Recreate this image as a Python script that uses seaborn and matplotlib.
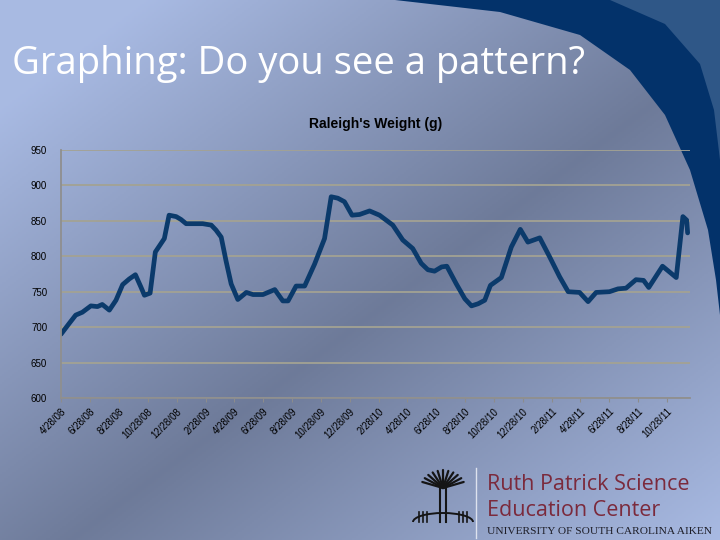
import numpy as np
import pandas as pd
import matplotlib
matplotlib.use("Agg")
import matplotlib.pyplot as plt
from matplotlib.patches import Polygon, Arc
import seaborn as sns

# weigh-in dates and weights
dates = [
    "2008-04-28", "2008-05-15", "2008-05-29", "2008-06-12", "2008-06-30",
    "2008-07-14", "2008-07-24", "2008-08-08", "2008-08-22", "2008-09-05",
    "2008-09-19", "2008-10-02", "2008-10-14", "2008-10-21", "2008-11-02",
    "2008-11-13", "2008-11-25", "2008-12-02", "2008-12-12", "2008-12-27",
    "2009-01-06", "2009-01-17", "2009-02-21", "2009-03-11", "2009-03-21",
    "2009-04-01", "2009-04-11", "2009-04-22", "2009-05-06", "2009-05-24",
    "2009-06-07", "2009-06-28", "2009-07-23", "2009-08-09", "2009-08-20",
    "2009-09-06", "2009-09-24", "2009-10-15", "2009-11-05", "2009-11-19",
    "2009-12-03", "2009-12-17", "2010-01-02", "2010-01-18", "2010-02-08",
    "2010-03-01", "2010-03-15", "2010-03-29", "2010-04-19", "2010-05-10",
    "2010-05-28", "2010-06-11", "2010-06-25", "2010-07-10", "2010-07-21",
    "2010-08-10", "2010-08-28", "2010-09-11", "2010-09-25", "2010-10-09",
    "2010-10-21", "2010-11-13", "2010-12-04", "2010-12-23", "2011-01-08",
    "2011-02-02", "2011-02-23", "2011-03-16", "2011-04-03", "2011-04-27",
    "2011-05-15", "2011-06-01", "2011-06-29", "2011-07-17", "2011-08-03",
    "2011-08-24", "2011-09-09", "2011-09-20", "2011-10-19", "2011-11-17",
    "2011-12-01", "2011-12-09", "2011-12-11",
]
weights = [
    690, 705, 717, 721, 730, 729, 732, 724, 738, 760,
    768, 774, 756, 745, 748, 806, 818, 825, 858, 856,
    852, 846, 846, 844, 837, 827, 794, 761, 739, 749,
    746, 746, 753, 737, 737, 758, 758, 789, 825, 884,
    882, 877, 858, 859, 864, 858, 851, 844, 823, 811,
    790, 781, 779, 785, 786, 761, 740, 730, 733, 738,
    759, 770, 813, 838, 820, 826, 799, 771, 750, 749,
    736, 749, 750, 754, 755, 767, 766, 756, 786, 770,
    856, 851, 833,
]
tick_labels = [
    "4/28/08", "6/28/08", "8/28/08", "10/28/08", "12/28/08",
    "2/28/09", "4/28/09", "6/28/09", "8/28/09", "10/28/09", "12/28/09",
    "2/28/10", "4/28/10", "6/28/10", "8/28/10", "10/28/10", "12/28/10",
    "2/28/11", "4/28/11", "6/28/11", "8/28/11", "10/28/11",
]
y_ticks = [600, 650, 700, 750, 800, 850, 900, 950]

df = pd.DataFrame({"date": pd.to_datetime(dates), "weight": weights})
tick_dates = pd.to_datetime(tick_labels, format="%m/%d/%y")

W, H = 720, 540
fig = plt.figure(figsize=(7.2, 5.4), dpi=100)

# slide background: diagonal blue-grey gradient
bg = fig.add_axes([0, 0, 1, 1], zorder=0)
xx, yy = np.meshgrid(np.linspace(0, 1, 360), np.linspace(0, 1, 270))
t = (xx + yy) / 2
light = np.array([0.66, 0.73, 0.89])
dark = np.array([0.43, 0.48, 0.60])
mix = np.clip(np.abs(t - 0.55) / 0.45, 0, 1)[..., None]
img = dark + (light - dark) * mix
bg.imshow(img, extent=[0, W, H, 0], aspect="auto")

# navy swoosh in the top-right corner
swoosh = [(395, 0), (500, 12), (580, 35), (630, 70), (665, 115), (690, 170),
          (708, 230), (716, 280), (720, 315), (720, 0)]
bg.add_patch(Polygon(swoosh, closed=True, color="#03326a", lw=0))
inner = [(610, 0), (665, 24), (700, 64), (714, 110), (720, 160), (720, 0)]
bg.add_patch(Polygon(inner, closed=True, color="#2f5787", lw=0))

# rough palmetto mark beside the logo text
cx, cy = 443, 488
for ang in np.linspace(20, 160, 11):
    r = 22
    bg.plot([cx, cx + r * np.cos(np.radians(ang))],
            [cy, cy - r * np.sin(np.radians(ang)) * 0.8],
            color="#151515", lw=1.6, solid_capstyle="round")
bg.plot([cx - 3, cx - 3], [cy, 522], color="#151515", lw=1.5)
bg.plot([cx + 3, cx + 3], [cy, 522], color="#151515", lw=1.5)
for dx in [-24, -20, -16, 16, 20, 24]:
    bg.plot([cx + dx, cx + dx], [512, 522], color="#151515", lw=1.2)
bg.add_patch(Arc((cx, 522), 60, 18, theta1=180, theta2=360, color="#151515", lw=1.4))

bg.set_xlim(0, W)
bg.set_ylim(H, 0)
bg.axis("off")

fig.text(12 / W, 1 - 64 / H, "Graphing: Do you see a pattern?", color="white",
         fontsize=27.5, family="Open Sans", va="center", ha="left")

# logo text
fig.text(487 / W, 1 - 485 / H, "Ruth Patrick Science", color="#7b2a3c",
         fontsize=15.5, family="Open Sans", va="center", ha="left")
fig.text(487 / W, 1 - 510 / H, "Education Center", color="#7b2a3c",
         fontsize=15.5, family="Open Sans", va="center", ha="left")
fig.text(487 / W, 1 - 532 / H, "UNIVERSITY OF SOUTH CAROLINA AIKEN", color="#1e1e28",
         fontsize=8.2, family="Liberation Serif", va="center", ha="left")
bg.plot([476, 476], [468, 538], color="#dde2ee", lw=1)

# the chart itself
ax = fig.add_axes([61 / W, 1 - 398 / H, (690 - 61) / W, (398 - 150) / H], zorder=2)
ax.set_facecolor("none")
sns.lineplot(data=df, x="date", y="weight", ax=ax, color="#0b3a6b", lw=3.4,
             solid_joinstyle="round", solid_capstyle="round")

ax.set_xlim(pd.Timestamp("2008-04-28"), pd.Timestamp("2011-12-16"))
ax.set_ylim(600, 950)
ax.set_yticks(y_ticks)
ax.set_yticklabels([str(v) for v in y_ticks], fontsize=7, family="Liberation Sans")
ax.set_xticks(tick_dates)
ax.set_xticklabels(tick_labels, rotation=45, ha="right", rotation_mode="anchor",
                   fontsize=7, family="Liberation Sans")
ax.tick_params(axis="x", length=3, color="#8c8c8c", pad=3)
ax.tick_params(axis="y", length=0, pad=10)
ax.grid(axis="y", color="#a3a293", lw=1.3)
ax.set_axisbelow(True)
for side in ["top", "right"]:
    ax.spines[side].set_visible(False)
for side in ["left", "bottom"]:
    ax.spines[side].set_color("#8f8f8f")
    ax.spines[side].set_linewidth(1.3)
ax.set_xlabel("")
ax.set_ylabel("")
ax.set_title("Raleigh's Weight (g)", fontsize=10, fontweight="bold",
             family="Liberation Sans", pad=16)

fig.savefig("out.png", dpi=100)
